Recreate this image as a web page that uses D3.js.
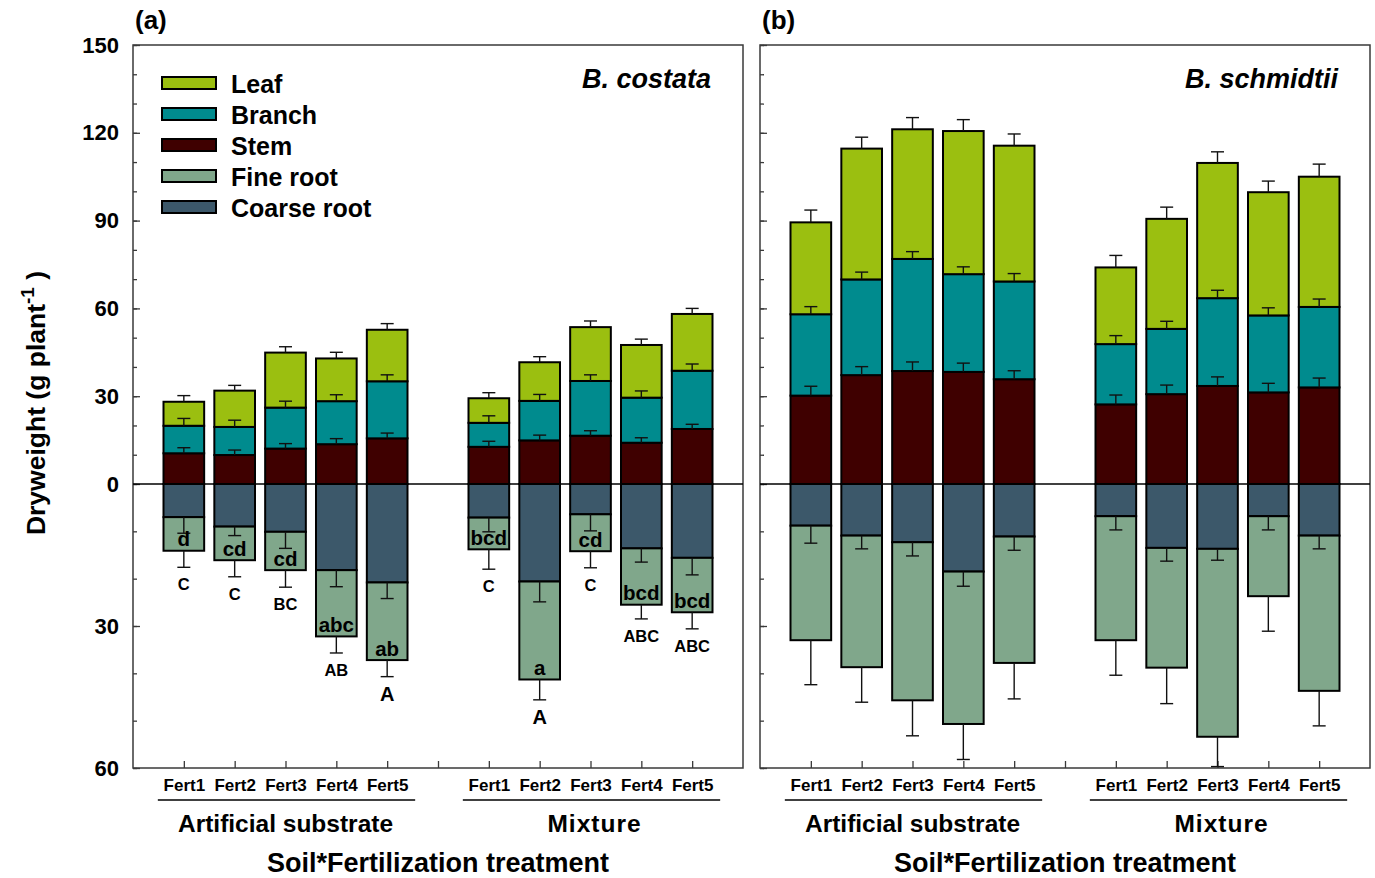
<!DOCTYPE html>
<html>
<head>
<meta charset="utf-8">
<script src="https://cdn.jsdelivr.net/npm/d3@7"></script>
<style>
  body { margin: 0; background: #fff; }
  text { font-family: "Liberation Sans", Arial, sans-serif; font-weight: bold; fill: #000; }
</style>
</head>
<body>
<svg id="chart" width="1375" height="878"></svg>
<script>
// categories
var fertLabels = ["Fert1", "Fert2", "Fert3", "Fert4", "Fert5"],
    soilLabels = ["Artificial substrate", "Mixture"],
    legendLabels = ["Leaf", "Branch", "Stem", "Fine root", "Coarse root"],
    yTickValues = [-60, -30, 0, 30, 60, 90, 120, 150];

// B. costata: Artificial Fert1-5, then Mixture Fert1-5 (g plant-1)
var costataStem     = [10.5, 9.9, 12.1, 13.6, 15.6, 12.7, 14.9, 16.5, 14.1, 18.8],
    costataStemSE   = [1.9, 1.7, 1.7, 1.9, 1.8, 1.9, 1.8, 1.7, 1.7, 1.6],
    costataBranch   = [9.4, 9.6, 14.0, 14.7, 19.5, 8.2, 13.5, 18.7, 15.4, 19.9],
    costataBranchSE = [2.5, 2.3, 2.2, 2.2, 2.2, 2.4, 2.2, 2.1, 2.3, 2.3],
    costataLeaf     = [8.2, 12.4, 18.8, 14.6, 17.6, 8.4, 13.2, 18.4, 18.0, 19.4],
    costataLeafSE   = [2.1, 1.8, 2.0, 2.1, 2.1, 1.9, 1.9, 2.1, 2.0, 1.9],
    costataCoarse   = [7.0, 9.0, 10.1, 18.2, 20.8, 7.1, 20.6, 6.4, 13.6, 15.6],
    costataCoarseSE = [3.4, 1.9, 3.5, 3.5, 3.4, 3.0, 4.3, 3.5, 2.9, 3.6],
    costataFine     = [7.1, 7.1, 8.1, 14.0, 16.4, 6.7, 20.7, 7.8, 11.9, 11.5],
    costataFineSE   = [3.5, 3.5, 3.6, 3.5, 3.5, 4.2, 4.3, 3.5, 3.0, 3.5],
    costataLetters  = ["d", "cd", "cd", "abc", "ab", "bcd", "a", "cd", "bcd", "bcd"],
    costataTotalLetters = ["C", "C", "BC", "AB", "A", "C", "A", "C", "ABC", "ABC"];

// B. schmidtii
var schmidtiiStem     = [30.2, 37.2, 38.6, 38.3, 35.8, 27.2, 30.7, 33.5, 31.3, 33.0],
    schmidtiiStemSE   = [3.2, 2.9, 3.1, 3.0, 2.9, 3.2, 3.1, 3.1, 3.1, 3.2],
    schmidtiiBranch   = [27.8, 32.7, 38.3, 33.4, 33.4, 20.6, 22.3, 30.0, 26.3, 27.5],
    schmidtiiBranchSE = [2.6, 2.5, 2.5, 2.5, 2.7, 2.9, 2.6, 2.7, 2.6, 2.7],
    schmidtiiLeaf     = [31.4, 44.7, 44.3, 48.9, 46.4, 26.2, 37.6, 46.2, 42.1, 44.5],
    schmidtiiLeafSE   = [4.2, 3.9, 4.0, 3.9, 4.0, 4.1, 4.0, 3.8, 3.8, 4.3],
    schmidtiiCoarse   = [8.8, 10.9, 12.3, 18.5, 11.1, 6.8, 13.5, 13.7, 6.8, 10.9],
    schmidtiiCoarseSE = [3.7, 2.8, 2.9, 3.1, 2.9, 2.9, 2.8, 2.4, 2.9, 2.8],
    schmidtiiFine     = [24.2, 27.8, 33.4, 32.2, 26.7, 26.2, 25.3, 39.7, 16.9, 32.8],
    schmidtiiFineSE   = [9.4, 7.4, 7.5, 7.5, 7.6, 7.4, 7.6, 6.3, 7.4, 7.4];

(function () {

    var colors = {
        leaf: "#9bbf10",
        branch: "#008b8e",
        stem: "#3f0000",
        fine: "#80a78b",
        coarse: "#3c586a"
    };
    var legendKeys = ["leaf", "branch", "stem", "fine", "coarse"],
        stackKeys = ["stem", "branch", "leaf", "coarse", "fine"];

    var svg = d3.select("#chart"),
        plotTop = 45,
        plotBottom = 768,
        font = "Liberation Sans, Arial, sans-serif";

    var y = d3.scaleLinear().domain([-60, 0, 150]).range([plotBottom, 484, plotTop]);

    var panels = [
        { tag: "(a)", species: "B. costata", left: 133, right: 743,
          stem: costataStem, stemSE: costataStemSE, branch: costataBranch, branchSE: costataBranchSE,
          leaf: costataLeaf, leafSE: costataLeafSE, coarse: costataCoarse, coarseSE: costataCoarseSE,
          fine: costataFine, fineSE: costataFineSE,
          letters: costataLetters, totalLetters: costataTotalLetters, showY: true, legend: true },
        { tag: "(b)", species: "B. schmidtii", left: 760, right: 1370,
          stem: schmidtiiStem, stemSE: schmidtiiStemSE, branch: schmidtiiBranch, branchSE: schmidtiiBranchSE,
          leaf: schmidtiiLeaf, leafSE: schmidtiiLeafSE, coarse: schmidtiiCoarse, coarseSE: schmidtiiCoarseSE,
          fine: schmidtiiFine, fineSE: schmidtiiFineSE,
          letters: null, totalLetters: null, showY: false, legend: false }
    ];

    panels.forEach(drawPanel);

    function slotOf(i) { return i < 5 ? i + 1 : i + 2; }

    function styleAxis(a, size) {
        a.select(".domain").remove();
        a.selectAll("line").attr("stroke", "#3a3a3a").attr("stroke-width", 1.3);
        a.selectAll("text").attr("font-size", size).attr("font-weight", "bold")
            .attr("font-family", font).attr("fill", "#000");
    }

    function drawPanel(p) {
        var x = d3.scaleLinear().domain([0, 12]).range([p.left, p.right]),
            barW = (x(1) - x(0)) * 0.8,
            g = svg.append("g");

        var rows = d3.range(10).map(function (i) {
            return {
                i: i,
                stem: p.stem[i], branch: p.branch[i], leaf: p.leaf[i],
                coarse: -p.coarse[i], fine: -p.fine[i],
                se: { stem: p.stemSE[i], branch: p.branchSE[i], leaf: p.leafSE[i],
                      coarse: p.coarseSE[i], fine: p.fineSE[i] }
            };
        });

        var series = d3.stack().keys(stackKeys).offset(d3.stackOffsetDiverging)(rows);

        // frame
        g.append("rect")
            .attr("x", p.left).attr("y", plotTop)
            .attr("width", p.right - p.left).attr("height", plotBottom - plotTop)
            .attr("fill", "none").attr("stroke", "#3a3a3a").attr("stroke-width", 1.5);

        // y ticks, pointing inward
        g.append("g")
            .attr("transform", "translate(" + p.left + ",0)")
            .call(d3.axisLeft(y).tickValues(d3.range(-60, 151, 10)).tickSize(-4).tickFormat(""))
            .call(styleAxis, 0);
        g.append("g")
            .attr("transform", "translate(" + p.left + ",0)")
            .call(d3.axisLeft(y).tickValues(yTickValues).tickSize(-7).tickPadding(14)
                .tickFormat(function (d) { return p.showY ? Math.abs(d) : ""; }))
            .call(styleAxis, 22);

        // x ticks with fert labels
        g.append("g")
            .attr("transform", "translate(0," + plotBottom + ")")
            .call(d3.axisBottom(x).tickValues(d3.range(1, 12)).tickSize(-7).tickPadding(11)
                .tickFormat(function (d) { return d === 6 ? "" : fertLabels[(d - 1) % 6]; }))
            .call(styleAxis, 17);

        // bars
        series.forEach(function (s) {
            g.append("g").selectAll("rect")
                .data(s)
                .join("rect")
                .attr("x", function (d) { return x(slotOf(d.data.i)) - barW / 2; })
                .attr("y", function (d) { return y(d[1]); })
                .attr("width", barW)
                .attr("height", function (d) { return y(d[0]) - y(d[1]); })
                .attr("fill", colors[s.key])
                .attr("stroke", "#000")
                .attr("stroke-width", 2);
        });

        // zero line
        g.append("line")
            .attr("x1", p.left).attr("x2", p.right)
            .attr("y1", y(0)).attr("y2", y(0))
            .attr("stroke", "#000").attr("stroke-width", 1.5);

        // error bars
        var errs = [];
        series.forEach(function (s) {
            s.forEach(function (d) {
                var v = d.data[s.key],
                    end = v > 0 ? d[1] : d[0],
                    se = d.data.se[s.key] * (v > 0 ? 1 : -1);
                errs.push({ cx: x(slotOf(d.data.i)), y0: y(end), y1: y(end + se), i: d.data.i, key: s.key });
            });
        });
        var eg = g.append("g").attr("stroke", "#111").attr("stroke-width", 1.4);
        eg.selectAll("line.v").data(errs).join("line").attr("class", "v")
            .attr("x1", function (d) { return d.cx; }).attr("x2", function (d) { return d.cx; })
            .attr("y1", function (d) { return d.y0; }).attr("y2", function (d) { return d.y1; });
        eg.selectAll("line.c").data(errs).join("line").attr("class", "c")
            .attr("x1", function (d) { return d.cx - 6.5; }).attr("x2", function (d) { return d.cx + 6.5; })
            .attr("y1", function (d) { return d.y1; }).attr("y2", function (d) { return d.y1; });

        // significance letters
        if (p.letters) {
            var fineEnd = errs.filter(function (d) { return d.key === "fine"; });
            g.append("g").selectAll("text")
                .data(fineEnd)
                .join("text")
                .attr("x", function (d) { return d.cx; })
                .attr("y", function (d) { return d.y0 - 12; })
                .attr("text-anchor", "middle")
                .attr("dominant-baseline", "central")
                .attr("font-size", 20.5)
                .text(function (d) { return p.letters[d.i]; });
            g.append("g").selectAll("text")
                .data(fineEnd)
                .join("text")
                .attr("x", function (d) { return d.cx; })
                .attr("y", function (d) { return d.y1 + 17; })
                .attr("text-anchor", "middle")
                .attr("dominant-baseline", "central")
                .attr("font-size", function (d) { return p.totalLetters[d.i] === "A" ? 20 : 16.5; })
                .text(function (d) { return p.totalLetters[d.i]; });
        }

        // soil group underline and labels
        [[1, 5], [7, 11]].forEach(function (r, k) {
            g.append("line")
                .attr("x1", x(r[0]) - 26).attr("x2", x(r[1]) + 28)
                .attr("y1", 800).attr("y2", 800)
                .attr("stroke", "#000").attr("stroke-width", 1.6);
            g.append("text")
                .attr("x", x((r[0] + r[1]) / 2) + (k ? 4 : 0)).attr("y", 832)
                .attr("text-anchor", "middle")
                .attr("font-size", 24.5)
                .attr("letter-spacing", k ? 1 : 0)
                .text(soilLabels[k]);
        });
        g.append("text")
            .attr("x", x(6)).attr("y", 872)
            .attr("text-anchor", "middle")
            .attr("font-size", 27)
            .text("Soil*Fertilization treatment");

        // panel tag and species
        g.append("text")
            .attr("x", p.left + 2).attr("y", 29)
            .attr("font-size", 26)
            .text(p.tag);
        g.append("text")
            .attr("x", p.right - 32).attr("y", 88)
            .attr("text-anchor", "end")
            .attr("font-size", 27)
            .attr("font-style", "italic")
            .text(p.species);

        if (p.legend) {
            var lg = g.append("g").selectAll("g")
                .data(legendKeys)
                .join("g")
                .attr("transform", function (d, i) { return "translate(162," + (83 + i * 31) + ")"; });
            lg.append("rect")
                .attr("x", 0).attr("y", -6).attr("width", 54).attr("height", 12)
                .attr("fill", function (d) { return colors[d]; })
                .attr("stroke", "#000").attr("stroke-width", 2);
            lg.append("text")
                .attr("x", 69).attr("y", 1)
                .attr("dominant-baseline", "central")
                .attr("font-size", 25)
                .text(function (d, i) { return legendLabels[i]; });
        }
    }

    // y axis title
    var yt = svg.append("text")
        .attr("transform", "translate(45,403) rotate(-90)")
        .attr("text-anchor", "middle")
        .attr("font-size", 26.5);
    yt.append("tspan").text("Dryweight (g plant");
    yt.append("tspan").attr("font-size", 19).attr("dy", -11).text("-1");
    yt.append("tspan").attr("dy", 11).text(" )");

}());
</script>
</body>
</html>
